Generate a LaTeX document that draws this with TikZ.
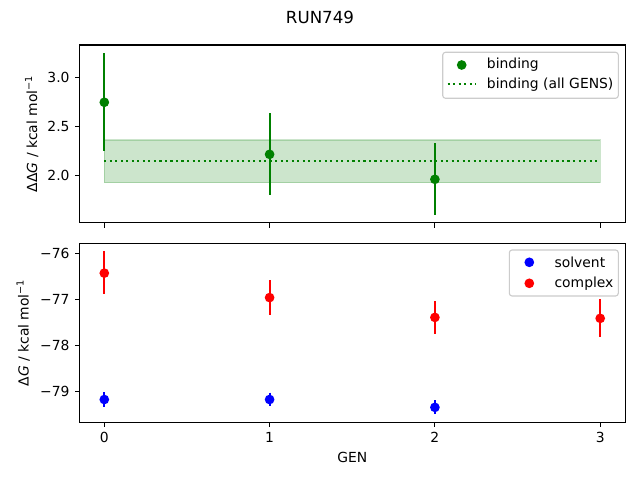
\documentclass[tikz,border=0pt]{standalone}
\usepackage{fontspec}
\setmainfont{DejaVu Sans}
\definecolor{mplgreen}{RGB}{0,128,0}
\definecolor{leggray}{RGB}{204,204,204}
\begin{document}
\begin{tikzpicture}[x=0.72pt,y=-0.72pt,
  axisframe/.style={draw=black,line width=0.8pt},
  tickmark/.style={line width=0.8pt},
  ticklab/.style={font=\fontsize{10}{12}\selectfont,inner sep=0pt},
  errg/.style={draw=mplgreen,line width=1.5pt},
  dotg/.style={circle,fill=mplgreen,minimum size=7pt,inner sep=0pt},
  dotb/.style={circle,fill=blue,minimum size=7pt,inner sep=0pt},
  dotr/.style={circle,fill=red,minimum size=7pt,inner sep=0pt},
  errb/.style={draw=blue,line width=1.5pt},
  errr/.style={draw=red,line width=1.5pt},
  dotline/.style={draw=mplgreen,line width=1.5pt,dash pattern=on 1.5pt off 2.47pt},
  legbox/.style={draw=leggray,fill=white,fill opacity=0.8,line width=0.8pt,rounded corners=2pt},
  legtext/.style={font=\fontsize{10}{12}\selectfont,inner sep=0pt,anchor=west}
]
\useasboundingbox (0,0) rectangle (640,480);
\fill[white] (0,0) rectangle (640,480);
% title
\node[font=\fontsize{12}{14}\selectfont] (title) at (320,17) {RUN749};

% ================= top panel =================
\begin{scope}[shift={(104.3,175.3)},x=119.016pt,y=70.56pt]
  % band
  \fill[mplgreen,fill opacity=0.2] (0,0.36) rectangle (3,-0.075);
  \draw[mplgreen,opacity=0.2,line width=1pt] (0,0.36) rectangle (3,-0.075);
  \coordinate (dl) at (0,0.146);
  \coordinate (dr) at (3,0.146);
  \draw[dotline] (dl) -- (dr);
  % points
  \coordinate (e0t) at (0,1.245); \coordinate (e0b) at (0,0.25);
  \coordinate (e1t) at (1,0.633); \coordinate (e1b) at (1,-0.20);
  \coordinate (e2t) at (2,0.327); \coordinate (e2b) at (2,-0.40);
  \draw[errg] (e0t) -- (e0b);
  \draw[errg] (e1t) -- (e1b);
  \draw[errg] (e2t) -- (e2b);
  \node[dotg] (b0) at (0,0.745) {};
  \node[dotg] (b1) at (1,0.214) {};
  \node[dotg] (b2) at (2,-0.041) {};
\end{scope}
% frame
\draw[axisframe] (79.5,45) rectangle (625.3,222.7);
% y ticks top
\foreach \yy/\lab in {77.3/3.0,126.3/2.5,175.3/2.0}{
  \draw[tickmark] (79.5,\yy) -- (74.6,\yy);
  \node[ticklab,anchor=east] at (69.8,\yy) {\lab};
}
% x ticks top
\foreach \xx in {104.3,269.6,434.9,600.2}{
  \draw[tickmark] (\xx,222.7) -- (\xx,227.6);
}
\node[font=\fontsize{10}{12}\selectfont,rotate=90] (ylab1) at (31.7,133.8) {ΔΔ\textit{G} / kcal mol\textsuperscript{−1}};
% legend top
\draw[legbox] (442.7,52.3) rectangle (618.3,98.3);
\node[dotg] (lg1) at (461.7,65) {};
\coordinate (lgl) at (447.7,84.3);
\coordinate (lgr) at (475.7,84.3);
\draw[dotline] (lgl) -- (lgr);
\node[legtext] (lt1) at (486.7,65) {binding};
\node[legtext] (lt2) at (486.7,84.3) {binding (all GENS)};

% ================= bottom panel =================
\begin{scope}[shift={(104.3,253.3)},x=119.016pt,y=33.21pt]
  % complex
  \coordinate (c0t) at (0,0.05); \coordinate (c0b) at (0,-0.89);
  \coordinate (c1t) at (1,-0.58); \coordinate (c1b) at (1,-1.34);
  \coordinate (c2t) at (2,-1.04); \coordinate (c2b) at (2,-1.74);
  \coordinate (c3t) at (3,-1.00); \coordinate (c3b) at (3,-1.82);
  \draw[errr] (c0t) -- (c0b);
  \draw[errr] (c1t) -- (c1b);
  \draw[errr] (c2t) -- (c2b);
  \draw[errr] (c3t) -- (c3b);
  \node[dotr] (c0) at (0,-0.43) {};
  \node[dotr] (c1) at (1,-0.96) {};
  \node[dotr] (c2) at (2,-1.39) {};
  \node[dotr] (c3) at (3,-1.41) {};
  % solvent
  \coordinate (s0t) at (0,-3.01); \coordinate (s0b) at (0,-3.33);
  \coordinate (s1t) at (1,-3.02); \coordinate (s1b) at (1,-3.31);
  \coordinate (s2t) at (2,-3.19); \coordinate (s2b) at (2,-3.48);
  \draw[errb] (s0t) -- (s0b);
  \draw[errb] (s1t) -- (s1b);
  \draw[errb] (s2t) -- (s2b);
  \node[dotb] (s0) at (0,-3.17) {};
  \node[dotb] (s1) at (1,-3.17) {};
  \node[dotb] (s2) at (2,-3.34) {};
\end{scope}
\draw[axisframe] (79.5,243.3) rectangle (625.3,422.3);
\foreach \yy/\lab in {253.3/−76,299.4/−77,345.6/−78,391.7/−79}{
  \draw[tickmark] (79.5,\yy) -- (74.6,\yy);
  \node[ticklab,anchor=east] at (69.8,\yy) {\lab};
}
\foreach \xx/\lab in {104.3/0,269.6/1,434.9/2,600.2/3}{
  \draw[tickmark] (\xx,422.3) -- (\xx,427.2);
  \node[ticklab,anchor=north] at (\xx,432) {\lab};
}
\node[font=\fontsize{10}{12}\selectfont] (xlab) at (352.4,457.7) {GEN};
\node[font=\fontsize{10}{12}\selectfont,rotate=90] (ylab2) at (23.3,332.8) {Δ\textit{G} / kcal mol\textsuperscript{−1}};
% legend bottom
\draw[legbox] (509.3,250) rectangle (618.3,296);
\node[dotb] (lb1) at (529.3,262.3) {};
\node[dotr] (lb2) at (529.3,283.3) {};
\node[legtext] (lt3) at (554.3,262.3) {solvent};
\node[legtext] (lt4) at (554.3,283.3) {complex};
\end{tikzpicture}
\end{document}
